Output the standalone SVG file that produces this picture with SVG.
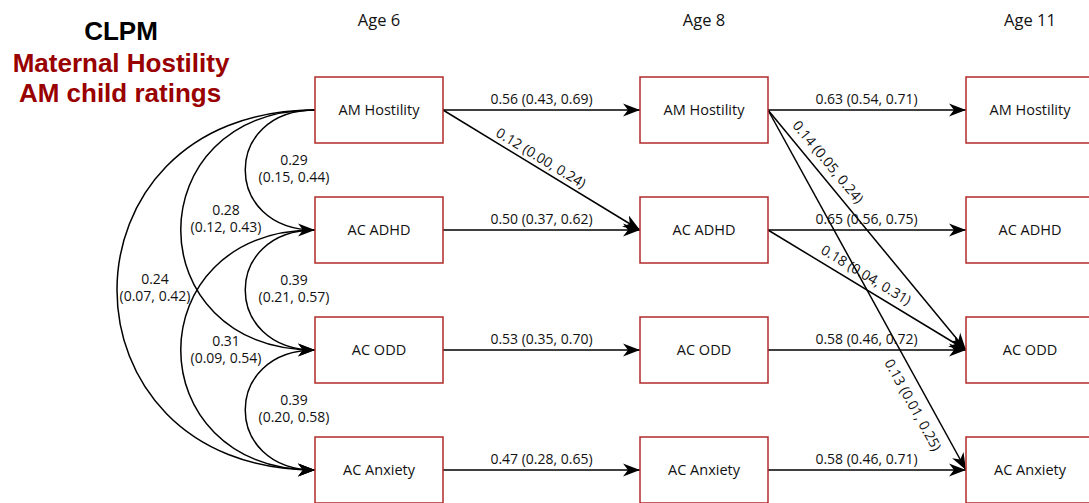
<svg xmlns="http://www.w3.org/2000/svg" width="1089" height="503" viewBox="0 0 1089 503">
  <defs>
    <style>
      .box { fill: #ffffff; stroke: #b22a2a; stroke-width: 1.5; }
      .node-text { font-family: "Open Sans", "Liberation Sans", sans-serif; font-size: 14.5px; fill: #111111; text-anchor: middle; }
      .age { font-family: "Open Sans", "Liberation Sans", sans-serif; font-size: 16.5px; fill: #111111; text-anchor: middle; }
      .edge { fill: none; stroke: #000000; stroke-width: 1.5; marker-end: url(#arrow); }
      .lbl { font-family: "Open Sans", "Liberation Sans", sans-serif; font-size: 14px; fill: #111111; text-anchor: middle; }
      .title { font-family: "Liberation Sans", Arial, sans-serif; font-size: 26px; font-weight: bold; text-anchor: middle; }
    </style>
    <marker id="arrow" markerUnits="userSpaceOnUse" markerWidth="18" markerHeight="14" refX="17" refY="7" orient="auto">
      <path d="M0,0.5 L17,7 L0,13.5 L5,7 Z" fill="#000000"/>
    </marker>
  </defs>

  <rect width="1089" height="503" fill="#ffffff"/>

  <!-- heading -->
  <g id="title">
    <text class="title" x="121" y="40" fill="#000000">CLPM</text>
    <text class="title" x="121" y="72" fill="#990000">Maternal Hostility</text>
    <text class="title" x="120" y="102" fill="#990000">AM child ratings</text>
  </g>

  <!-- wave labels -->
  <g id="ages">
    <text class="age" x="379" y="26">Age 6</text>
    <text class="age" x="704" y="26">Age 8</text>
    <text class="age" x="1030" y="26">Age 11</text>
  </g>

  <!-- connectors -->
  <g id="connectors">
    <!-- covariances at age 6 -->
    <path class="edge" d="M315,110 C222,110 222,230 315,230"/>
    <path class="edge" d="M315,110 C136,110 136,350 315,350"/>
    <path class="edge" d="M315,110 C51,110 51,470 315,470"/>
    <path class="edge" d="M315,230 C222,230 222,350 315,350"/>
    <path class="edge" d="M315,230 C136,230 136,470 315,470"/>
    <path class="edge" d="M315,350 C222,350 222,470 315,470"/>

    <!-- stability paths 6 -> 8 -->
    <line class="edge" x1="443" y1="110" x2="640" y2="110"/>
    <line class="edge" x1="443" y1="230" x2="640" y2="230"/>
    <line class="edge" x1="443" y1="350" x2="640" y2="350"/>
    <line class="edge" x1="443" y1="470" x2="640" y2="470"/>
    <!-- cross-lagged 6 -> 8 -->
    <line class="edge" x1="443" y1="110" x2="640" y2="230"/>

    <!-- stability paths 8 -> 11 -->
    <line class="edge" x1="768" y1="110" x2="966" y2="110"/>
    <line class="edge" x1="768" y1="230" x2="966" y2="230"/>
    <line class="edge" x1="768" y1="350" x2="966" y2="350"/>
    <line class="edge" x1="768" y1="470" x2="966" y2="470"/>
    <!-- cross-lagged 8 -> 11 -->
    <line class="edge" x1="768" y1="110" x2="966" y2="350"/>
    <line class="edge" x1="768" y1="230" x2="966" y2="350"/>
    <line class="edge" x1="768" y1="110" x2="966" y2="470"/>

    <!-- estimates -->
    <text class="lbl" x="294" y="165">0.29</text>
    <text class="lbl" x="294" y="182">(0.15, 0.44)</text>
    <text class="lbl" x="226" y="215">0.28</text>
    <text class="lbl" x="226" y="232">(0.12, 0.43)</text>
    <text class="lbl" x="155" y="284">0.24</text>
    <text class="lbl" x="155" y="301">(0.07, 0.42)</text>
    <text class="lbl" x="294" y="285">0.39</text>
    <text class="lbl" x="294" y="302">(0.21, 0.57)</text>
    <text class="lbl" x="226" y="346">0.31</text>
    <text class="lbl" x="226" y="363">(0.09, 0.54)</text>
    <text class="lbl" x="294" y="405">0.39</text>
    <text class="lbl" x="294" y="422">(0.20, 0.58)</text>

    <text class="lbl" x="541.5" y="103.5">0.56 (0.43, 0.69)</text>
    <text class="lbl" x="541.5" y="223.5">0.50 (0.37, 0.62)</text>
    <text class="lbl" x="541.5" y="343.5">0.53 (0.35, 0.70)</text>
    <text class="lbl" x="541.5" y="463.5">0.47 (0.28, 0.65)</text>

    <text class="lbl" x="866.5" y="103.5">0.63 (0.54, 0.71)</text>
    <text class="lbl" x="866.5" y="223.5">0.65 (0.56, 0.75)</text>
    <text class="lbl" x="866.5" y="343.5">0.58 (0.46, 0.72)</text>
    <text class="lbl" x="866.5" y="463.5">0.58 (0.46, 0.71)</text>

    <text class="lbl" transform="translate(541,158) rotate(31.35)" dy="0.35em">0.12 (0.00, 0.24)</text>
    <text class="lbl" transform="translate(828,162) rotate(50.47)" dy="0.35em">0.14 (0.05, 0.24)</text>
    <text class="lbl" transform="translate(866,275) rotate(31.22)" dy="0.35em">0.18 (0.04, 0.31)</text>
    <text class="lbl" transform="translate(913,405) rotate(61.19)" dy="0.35em">0.13 (0.01, 0.25)</text>
  </g>

  <!-- age 6 -->
  <g id="am-hostility-6"><rect class="box" x="315" y="77" width="128" height="66"/><text class="node-text" x="379" y="115">AM Hostility</text></g>
  <g id="ac-adhd-6"><rect class="box" x="315" y="197" width="128" height="66"/><text class="node-text" x="379" y="235">AC ADHD</text></g>
  <g id="ac-odd-6"><rect class="box" x="315" y="317" width="128" height="66"/><text class="node-text" x="379" y="355">AC ODD</text></g>
  <g id="ac-anxiety-6"><rect class="box" x="315" y="437" width="128" height="66"/><text class="node-text" x="379" y="475">AC Anxiety</text></g>

  <!-- age 8 -->
  <g id="am-hostility-8"><rect class="box" x="640" y="77" width="128" height="66"/><text class="node-text" x="704" y="115">AM Hostility</text></g>
  <g id="ac-adhd-8"><rect class="box" x="640" y="197" width="128" height="66"/><text class="node-text" x="704" y="235">AC ADHD</text></g>
  <g id="ac-odd-8"><rect class="box" x="640" y="317" width="128" height="66"/><text class="node-text" x="704" y="355">AC ODD</text></g>
  <g id="ac-anxiety-8"><rect class="box" x="640" y="437" width="128" height="66"/><text class="node-text" x="704" y="475">AC Anxiety</text></g>

  <!-- age 11 -->
  <g id="am-hostility-11"><rect class="box" x="966" y="77" width="128" height="66"/><text class="node-text" x="1030" y="115">AM Hostility</text></g>
  <g id="ac-adhd-11"><rect class="box" x="966" y="197" width="128" height="66"/><text class="node-text" x="1030" y="235">AC ADHD</text></g>
  <g id="ac-odd-11"><rect class="box" x="966" y="317" width="128" height="66"/><text class="node-text" x="1030" y="355">AC ODD</text></g>
  <g id="ac-anxiety-11"><rect class="box" x="966" y="437" width="128" height="66"/><text class="node-text" x="1030" y="475">AC Anxiety</text></g>
</svg>
